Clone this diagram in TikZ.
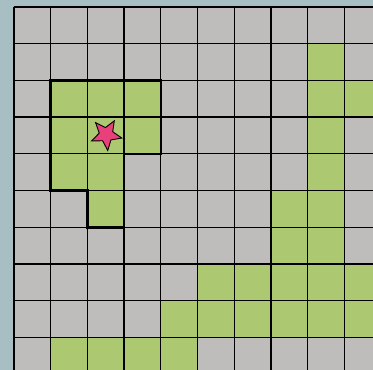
\documentclass[tikz,border=0pt]{standalone}
\usetikzlibrary{shapes.geometric}
\definecolor{bg}{HTML}{A7BFC3}
\definecolor{cellgray}{HTML}{BFBDBC}
\definecolor{cellgreen}{HTML}{ACC971}
\definecolor{starpink}{HTML}{E8407A}
\tikzset{
  gridline/.style={black, line width=1.3pt},
  outline/.style={black, line width=2.6pt, line join=miter},
  starmark/.style={star, star points=5, star point ratio=2.25, minimum size=32pt, inner sep=0pt, fill=starpink, draw=black, line width=0.9pt, rotate=185.6}
}
\begin{document}
\begin{tikzpicture}[x=1pt,y=-1pt]
\useasboundingbox (0,0) rectangle (373,370);
\fill[bg] (0,0) rectangle (373,370);
\begin{scope}
\clip (0,0) rectangle (373,370);
\fill[cellgray] (14,7) rectangle (390,390);
\foreach \c/\r in {8/1, 1/2,2/2,3/2,8/2,9/2, 1/3,2/3,3/3,8/3, 1/4,2/4,8/4, 2/5,7/5,8/5, 7/6,8/6, 5/7,6/7,7/7,8/7,9/7, 4/8,5/8,6/8,7/8,8/8,9/8, 1/9,2/9,3/9,4/9}
  \fill[cellgreen] ({14+36.7*\c},{7+36.7*\r}) rectangle +(36.7,36.7);
\foreach \i in {0,...,10} {
  \draw[gridline] ({14+36.7*\i},7) -- ({14+36.7*\i},390);
  \draw[gridline] (14,{7+36.7*\i}) -- (390,{7+36.7*\i});
}
\end{scope}
\draw[outline] (50.7,80.4) -- (160.8,80.4) -- (160.8,153.8) -- (124.1,153.8) -- (124.1,227.2) -- (87.4,227.2) -- (87.4,190.5) -- (50.7,190.5) -- cycle;
\node[starmark] (star) at (106.2,134.6) {};
\end{tikzpicture}
\end{document}
